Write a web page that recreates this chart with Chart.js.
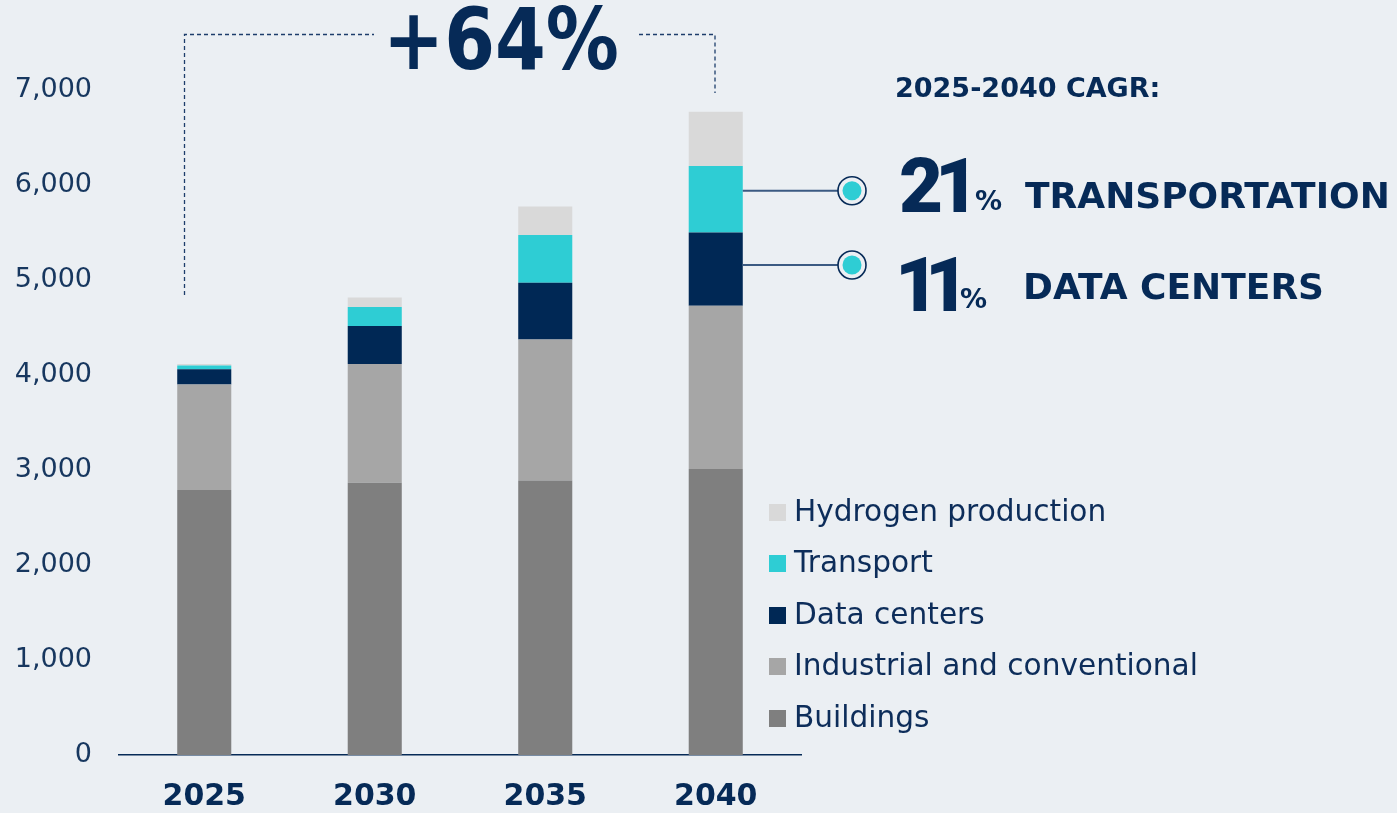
<!DOCTYPE html>
<html>
<head>
<meta charset="utf-8">
<script src="https://cdn.jsdelivr.net/npm/chart.js@4.4.1/dist/chart.umd.min.js"></script>
<style>
html,body{margin:0;padding:0;background:#ebeff3;}
#wrap{position:relative;width:1397px;height:813px;overflow:hidden;background:#ebeff3;}
#c{position:absolute;left:0;top:0;}
.t{position:absolute;font-family:"DejaVu Sans",sans-serif;color:#062a57;line-height:1;white-space:nowrap;}
.b{font-weight:bold;}
.big{font-family:Roboto,"DejaVu Sans",sans-serif;font-weight:900;font-size:76px;}
.lg{position:absolute;left:769px;font-family:"DejaVu Sans",sans-serif;font-size:29.6px;line-height:1;color:#0d2d5a;white-space:nowrap;}
.lg i{position:absolute;left:0;top:7px;width:17px;height:17px;}
.lg span{position:absolute;left:25px;top:0;}
</style>
</head>
<body>
<div id="wrap">
<canvas id="c" width="1397" height="813"></canvas>
<div class="t b" style="left:383px;top:-4px;font-size:73px;transform:scaleY(1.18);transform-origin:0 0;">+64%</div>
<div class="t b" style="left:895px;top:73.5px;font-size:27px;">2025-2040 CAGR:</div>
<div class="t big" style="left:899px;top:148px;letter-spacing:-8px;">21</div>
<div class="t b" style="left:975px;top:186.5px;font-size:27px;">%</div>
<div class="t b" style="left:1025px;top:177.5px;font-size:36px;">TRANSPORTATION</div>
<div class="t big" style="left:895px;top:247px;letter-spacing:-14px;">11</div>
<div class="t b" style="left:960px;top:284.5px;font-size:27px;">%</div>
<div class="t b" style="left:1023px;top:269px;font-size:36px;">DATA CENTERS</div>
<div id="legend"></div>
</div>
<script>
const years = ['2025', '2030', '2035', '2040'];
const seriesNames = ['Buildings', 'Industrial and conventional', 'Data centers', 'Transport', 'Hydrogen production'];
const buildings = [2790, 2865, 2890, 3010];
const industrial = [1110, 1250, 1485, 1720];
const dataCenters = [160, 400, 595, 770];
const transport = [40, 200, 505, 700];
const hydrogen = [15, 100, 300, 570];
const yTicks = [0, 1000, 2000, 3000, 4000, 5000, 6000, 7000];

const colors = ['#7f7f7f', '#a6a6a6', '#002855', '#2ecdd4', '#d9d9d9'];
const NAVY = '#062a57';
const seriesValues = [buildings, industrial, dataCenters, transport, hydrogen];

const datasets = seriesValues.map((vals, i) => ({
  label: seriesNames[i],
  data: vals,
  backgroundColor: colors[i],
  borderWidth: 0,
  barPercentage: 1,
  categoryPercentage: 0.317
}));

const overlay = {
  id: 'overlay',
  afterDraw(chart) {
    const ctx = chart.ctx;
    ctx.save();
    // dashed bracket
    ctx.strokeStyle = '#1d3d6b';
    ctx.lineWidth = 1.3;
    ctx.setLineDash([4, 3]);
    ctx.beginPath();
    ctx.moveTo(184.5, 295);
    ctx.lineTo(184.5, 34.5);
    ctx.lineTo(374, 34.5);
    ctx.moveTo(639, 34.5);
    ctx.lineTo(715, 34.5);
    ctx.lineTo(715, 93);
    ctx.stroke();
    ctx.setLineDash([]);
    // connectors
    const bar = chart.getDatasetMeta(3).data[3];
    const x0 = bar.x + bar.width / 2;
    [190.7, 265].forEach(y => {
      ctx.strokeStyle = '#3b5a82';
      ctx.lineWidth = 2;
      ctx.beginPath();
      ctx.moveTo(x0, y);
      ctx.lineTo(838, y);
      ctx.stroke();
      ctx.beginPath();
      ctx.arc(852, y, 14, 0, Math.PI * 2);
      ctx.fillStyle = '#ebeff3';
      ctx.fill();
      ctx.lineWidth = 1.6;
      ctx.strokeStyle = NAVY;
      ctx.stroke();
      ctx.beginPath();
      ctx.arc(852, y, 9.5, 0, Math.PI * 2);
      ctx.fillStyle = '#2ecdd4';
      ctx.fill();
    });
    ctx.restore();
  }
};

const chart = new Chart(document.getElementById('c'), {
  type: 'bar',
  data: { labels: years, datasets },
  options: {
    responsive: false,
    animation: false,
    events: [],
    layout: { padding: { left: 0, right: 596, top: 90, bottom: 0 } },
    plugins: { legend: { display: false }, tooltip: { enabled: false } },
    scales: {
      x: {
        stacked: true,
        grid: { display: false, drawTicks: false },
        border: { display: true, color: NAVY, width: 1.5 },
        ticks: {
          padding: 24,
          color: NAVY,
          font: { family: 'DejaVu Sans', size: 30, weight: 'bold' }
        },
        afterFit(scale) { scale.height = 58; }
      },
      y: {
        stacked: true,
        min: yTicks[0],
        max: yTicks[yTicks.length - 1],
        grid: { display: false, drawTicks: false },
        border: { display: false },
        afterBuildTicks(scale) { scale.ticks = yTicks.map(v => ({ value: v })); },
        ticks: {
          padding: 27,
          color: '#17375f',
          font: { family: 'DejaVu Sans', size: 27 },
          callback: v => Number(v).toLocaleString('en-US')
        },
        afterFit(scale) { scale.width = 119; }
      }
    }
  },
  plugins: [overlay]
});

// legend (reversed order, top = last series)
const legend = document.getElementById('legend');
const order = seriesNames.map((n, i) => i).reverse();
order.forEach((idx, row) => {
  const d = document.createElement('div');
  d.className = 'lg';
  d.style.top = (496.6 + row * 51.5) + 'px';
  d.innerHTML = '<i style="background:' + colors[idx] + '"></i><span>' + seriesNames[idx] + '</span>';
  legend.appendChild(d);
});
</script>
</body>
</html>
